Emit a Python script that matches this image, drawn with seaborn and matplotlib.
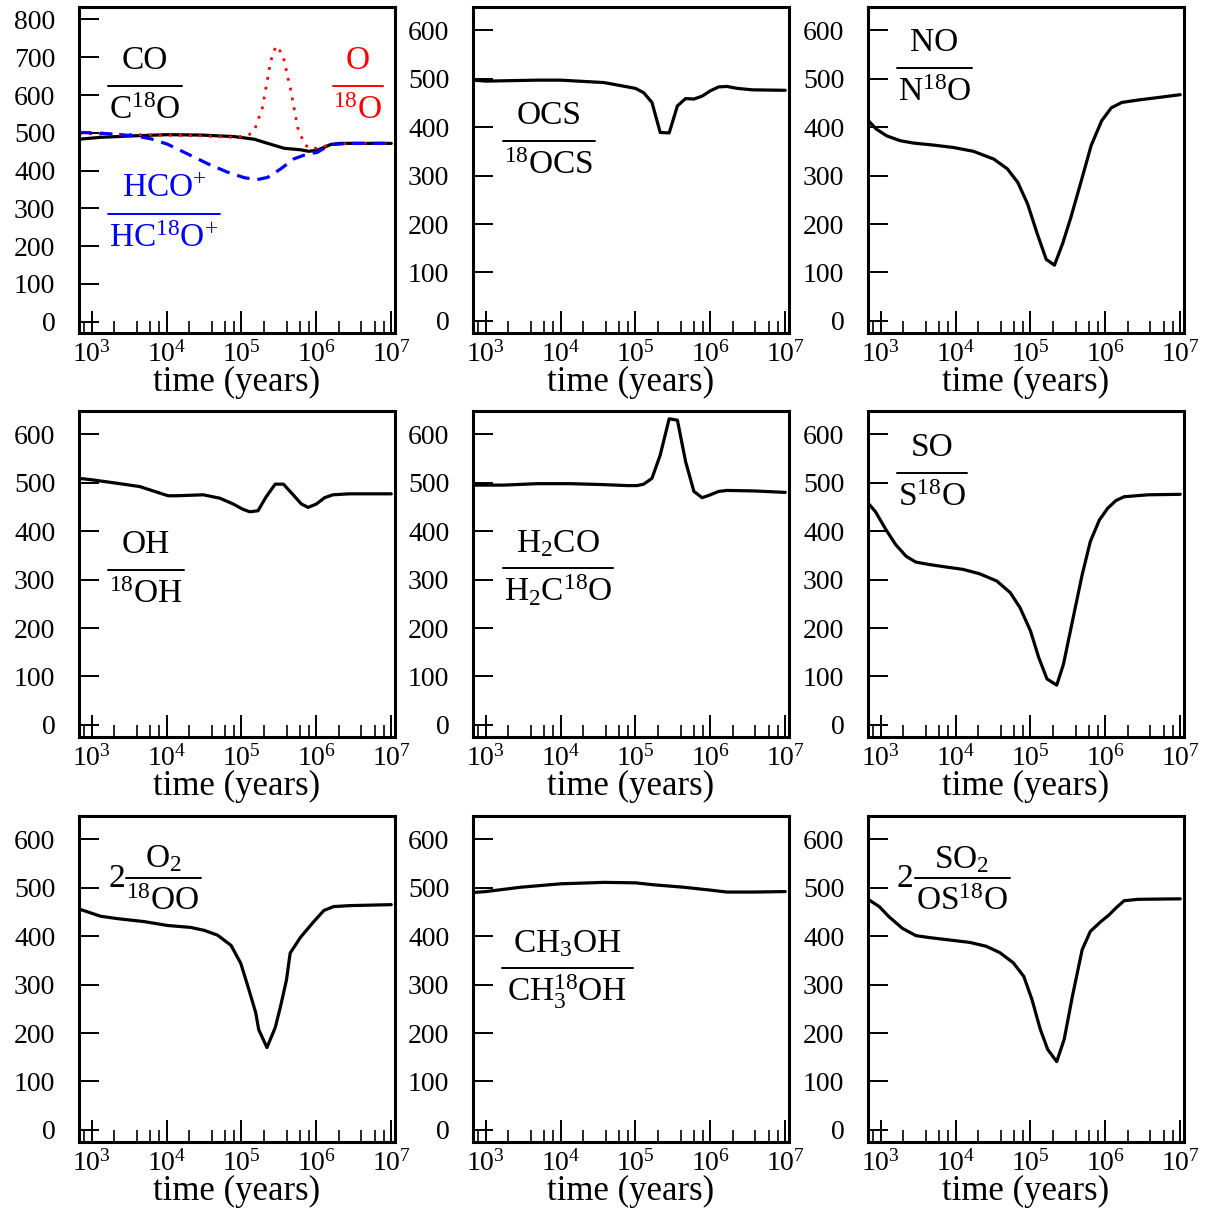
import numpy as np
import pandas as pd
import matplotlib
matplotlib.use("Agg")
import matplotlib.pyplot as plt
import seaborn as sns
from matplotlib.ticker import FixedLocator, FixedFormatter, LogLocator, NullFormatter
from matplotlib.lines import Line2D

# ---------------- data (log10 of time in years, isotopic ratio) ----------------
co_logt = [2.83, 3.12, 3.57, 4.01, 4.46, 4.90, 5.17, 5.35, 5.57, 5.79, 5.90, 6.01, 6.10, 6.19, 6.32, 6.68, 7.0]
co_ratio = [483, 488, 492, 495, 494, 490, 483, 472, 459, 455, 451, 454, 461, 469, 472, 472, 472]

o_logt = [2.83, 3.12, 3.57, 4.01, 4.46, 4.90, 5.08, 5.17, 5.28, 5.39, 5.46, 5.55, 5.66, 5.75, 5.84, 5.92, 6.06, 6.19, 6.68, 7.0]
o_ratio = [498, 497, 495, 494, 492, 488, 492, 505, 567, 690, 730, 708, 611, 514, 470, 457, 461, 470, 472, 472]

hco_logt = [2.83, 3.12, 3.57, 3.79, 4.01, 4.28, 4.55, 4.81, 5.04, 5.21, 5.35, 5.52, 5.70, 5.88, 6.01, 6.19, 6.46, 7.0]
hco_ratio = [501, 499, 492, 484, 470, 444, 418, 396, 381, 376, 382, 404, 431, 444, 448, 469, 472, 472]

ocs_logt = [2.83, 3.0, 3.69, 4.0, 4.58, 5.0, 5.11, 5.22, 5.33, 5.45, 5.56, 5.67, 5.78, 5.89, 6.0, 6.11, 6.22, 6.36, 6.56, 7.0]
ocs_ratio = [497, 495, 497, 497, 492, 480, 471, 451, 389, 388, 444, 459, 458, 464, 475, 483, 484, 480, 477, 476]

no_logt = [2.82, 2.94, 3.08, 3.26, 3.44, 3.70, 3.97, 4.24, 4.51, 4.69, 4.83, 4.96, 5.09, 5.21, 5.32, 5.43, 5.54, 5.68, 5.81, 5.95, 6.08, 6.22, 6.44, 6.75, 7.0]
no_ratio = [416, 396, 382, 372, 367, 363, 358, 350, 334, 314, 286, 242, 180, 127, 115, 160, 214, 290, 362, 413, 440, 451, 456, 462, 467]

oh_logt = [2.83, 3.0, 3.33, 3.64, 3.82, 4.02, 4.13, 4.49, 4.71, 4.89, 5.02, 5.11, 5.22, 5.33, 5.45, 5.56, 5.69, 5.80, 5.89, 6.0, 6.11, 6.22, 6.44, 7.0]
oh_ratio = [509, 506, 499, 492, 483, 473, 473, 475, 468, 456, 445, 440, 442, 471, 497, 497, 475, 456, 449, 456, 469, 475, 477, 477]

h2co_logt = [2.83, 3.0, 3.24, 3.69, 4.13, 4.58, 4.89, 5.02, 5.11, 5.22, 5.33, 5.45, 5.56, 5.67, 5.78, 5.89, 6.0, 6.11, 6.22, 6.58, 7.0]
h2co_ratio = [495, 495, 495, 498, 498, 496, 494, 494, 497, 509, 557, 632, 629, 543, 482, 469, 475, 482, 484, 483, 480]

so_logt = [2.83, 2.93, 3.07, 3.20, 3.34, 3.47, 3.65, 3.87, 4.10, 4.32, 4.55, 4.73, 4.86, 5.00, 5.11, 5.22, 5.35, 5.44, 5.56, 5.69, 5.80, 5.92, 6.03, 6.14, 6.25, 6.57, 7.0]
so_ratio = [458, 440, 403, 372, 348, 336, 331, 326, 321, 312, 297, 273, 242, 194, 139, 95, 82, 125, 214, 310, 379, 423, 447, 463, 471, 475, 476]

o2_logt = [2.83, 3.12, 3.35, 3.70, 4.01, 4.32, 4.50, 4.68, 4.86, 4.99, 5.10, 5.19, 5.23, 5.34, 5.45, 5.52, 5.60, 5.65, 5.79, 5.96, 6.10, 6.23, 6.45, 7.0]
o2_ratio = [456, 441, 436, 430, 422, 418, 412, 402, 381, 344, 289, 242, 207, 170, 211, 254, 309, 365, 398, 429, 453, 461, 463, 465]

ch3oh_logt = [2.83, 3.0, 3.47, 4.0, 4.58, 5.0, 5.24, 5.64, 6.0, 6.22, 6.58, 7.0]
ch3oh_ratio = [490, 492, 501, 508, 511, 510, 506, 501, 495, 491, 491, 492]

so2_logt = [2.83, 2.98, 3.11, 3.29, 3.47, 3.65, 3.92, 4.19, 4.41, 4.59, 4.77, 4.91, 5.02, 5.13, 5.23, 5.35, 5.45, 5.56, 5.69, 5.80, 5.94, 6.05, 6.14, 6.25, 6.43, 7.0]
so2_ratio = [476, 461, 440, 416, 401, 397, 392, 387, 379, 366, 345, 317, 269, 208, 166, 141, 187, 276, 372, 410, 430, 444, 458, 473, 476, 477]

xtick_values = [1e3, 1e4, 1e5, 1e6, 1e7]
xtick_labels = [r"10$^{3}$", r"10$^{4}$", r"10$^{5}$", r"10$^{6}$", r"10$^{7}$"]
xlabel_text = "time (years)"

# ---------------- style ----------------
sns.set_theme(style="white")
plt.rcParams["font.family"] = ["Liberation Serif", "DejaVu Serif"]
plt.rcParams["mathtext.fontset"] = "custom"
plt.rcParams["mathtext.rm"] = "Liberation Serif"
plt.rcParams["mathtext.default"] = "regular"

W, H = 1207, 1209
fig = plt.figure(figsize=(W / 100, H / 100), dpi=100)
fig.patch.set_facecolor("white")

col_left = [79, 473, 868]
row_top = [7, 411, 816]
AW, AH = 316, 326

def make_ax(r, c):
    left = col_left[c] / W
    bottom = (H - row_top[r] - AH) / H
    return fig.add_axes([left, bottom, AW / W, AH / H])

def style_ax(ax, ymax_tick, ylim):
    ax.set_xscale("log")
    ax.set_xlim(10 ** 2.83, 10 ** 7.05)
    ax.set_ylim(*ylim)
    ax.set_facecolor("white")
    for s in ax.spines.values():
        s.set_linewidth(2.2)
        s.set_color("black")
        s.set_visible(True)
    ax.xaxis.set_major_locator(FixedLocator(xtick_values))
    ax.xaxis.set_major_formatter(FixedFormatter(xtick_labels))
    ax.xaxis.set_minor_locator(LogLocator(base=10, subs=(2, 4, 6, 8), numticks=20))
    ax.xaxis.set_minor_formatter(NullFormatter())
    ax.yaxis.set_major_locator(FixedLocator(list(range(0, ymax_tick + 1, 100))))
    ax.yaxis.set_minor_locator(FixedLocator([]))
    ax.tick_params(axis="x", which="major", direction="in", length=15.5, width=1.4,
                   bottom=True, top=False, labelsize=20, pad=6, colors="black")
    ax.tick_params(axis="x", which="minor", direction="in", length=8.6, width=1.4,
                   bottom=True, top=False)
    ax.tick_params(axis="y", which="major", direction="in", length=14.4, width=1.4,
                   left=True, right=False, labelsize=20, pad=17, colors="black")
    ax.set_xlabel(xlabel_text, fontsize=25, labelpad=-1, color="black")
    ax.set_ylabel("")
    ax.grid(False)

def frac(ax, num, den, xc, ybar, x0, x1, color="black", num_off=17, den_off=33, prefix_x=None):
    ax.text(xc, ybar + num_off / AH, num, transform=ax.transAxes, ha="center", va="baseline",
            fontsize=24, color=color)
    ax.text(xc, ybar - den_off / AH, den, transform=ax.transAxes, ha="center", va="baseline",
            fontsize=24, color=color)
    ax.add_line(Line2D([x0, x1], [ybar, ybar], transform=ax.transAxes, color=color, lw=1.4))
    if prefix_x is not None:
        ax.text(prefix_x, ybar - 9 / AH, "2", transform=ax.transAxes, ha="center", va="baseline",
                fontsize=24, color=color)

def draw(ax, logt, ratio, color="black", ls="-", lw=2.3):
    df = pd.DataFrame({"time": np.power(10.0, logt), "ratio": ratio})
    sns.lineplot(data=df, x="time", y="ratio", ax=ax, color=color, linewidth=lw,
                 linestyle=ls, errorbar=None, sort=False, legend=False)

# Panel 1: CO, O, HCO+
ax = make_ax(0, 0)
draw(ax, co_logt, co_ratio)
draw(ax, o_logt, o_ratio, color="#ff0000", ls=(0, (1, 2.6)), lw=2.0)
draw(ax, hco_logt, hco_ratio, color="#0000ff", ls=(0, (4, 2.5)), lw=2.3)
style_ax(ax, 800, (-30, 833))
frac(ax, "CO", r"C$^{18}$O", 0.209, 0.759, 0.092, 0.326)
frac(ax, "O", r"$^{18}$O", 0.883, 0.759, 0.804, 0.962, color="#ff0000")
frac(ax, r"HCO$^{+}$", r"HC$^{18}$O$^{+}$", 0.269, 0.365, 0.092, 0.446, color="#0000ff")

# Panel 2: OCS
ax = make_ax(0, 1)
draw(ax, ocs_logt, ocs_ratio)
style_ax(ax, 600, (-25, 648))
frac(ax, "OCS", r"$^{18}$OCS", 0.24, 0.589, 0.095, 0.386)

# Panel 3: NO
ax = make_ax(0, 2)
draw(ax, no_logt, no_ratio)
style_ax(ax, 600, (-25, 648))
frac(ax, "NO", r"N$^{18}$O", 0.21, 0.813, 0.092, 0.329)

# Panel 4: OH
ax = make_ax(1, 0)
draw(ax, oh_logt, oh_ratio)
style_ax(ax, 600, (-25, 648))
frac(ax, "OH", r"$^{18}$OH", 0.212, 0.512, 0.092, 0.332)

# Panel 5: H2CO
ax = make_ax(1, 1)
draw(ax, h2co_logt, h2co_ratio)
style_ax(ax, 600, (-25, 648))
frac(ax, r"H$_{2}$CO", r"H$_{2}$C$^{18}$O", 0.269, 0.518, 0.095, 0.443, num_off=16)

# Panel 6: SO
ax = make_ax(1, 2)
draw(ax, so_logt, so_ratio)
style_ax(ax, 600, (-25, 648))
frac(ax, "SO", r"S$^{18}$O", 0.203, 0.810, 0.092, 0.313)

# Panel 7: O2
ax = make_ax(2, 0)
draw(ax, o2_logt, o2_ratio)
style_ax(ax, 600, (-25, 648))
frac(ax, r"O$_{2}$", r"$^{18}$OO", 0.266, 0.810, 0.149, 0.386, num_off=11, den_off=32, prefix_x=0.12)

# Panel 8: CH3OH
ax = make_ax(2, 1)
draw(ax, ch3oh_logt, ch3oh_ratio)
style_ax(ax, 600, (-25, 648))
frac(ax, r"CH$_{3}$OH", r"CH$_{3}^{18}$OH", 0.297, 0.534, 0.092, 0.506, num_off=16)

# Panel 9: SO2
ax = make_ax(2, 2)
draw(ax, so2_logt, so2_ratio)
style_ax(ax, 600, (-25, 648))
frac(ax, r"SO$_{2}$", r"OS$^{18}$O", 0.297, 0.810, 0.149, 0.449, num_off=10, den_off=32, prefix_x=0.117)

fig.savefig("out.png", dpi=100, facecolor="white")
